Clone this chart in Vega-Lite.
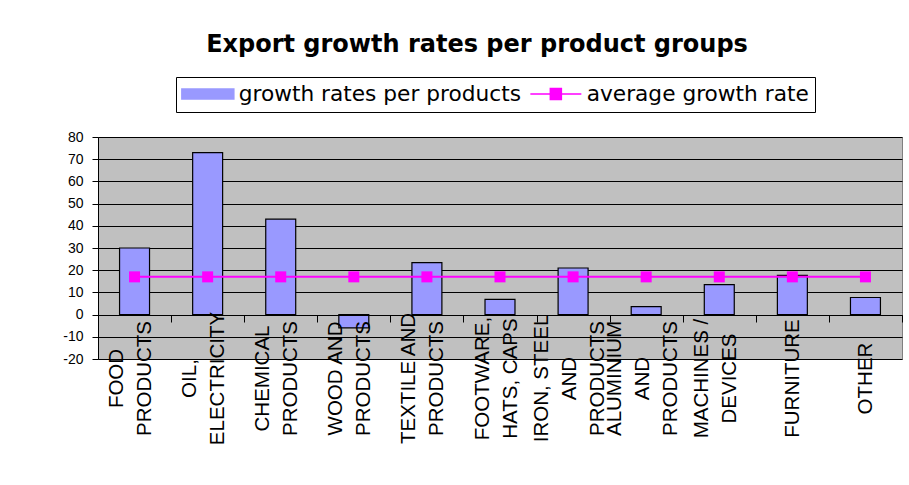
{
  "$schema": "https://vega.github.io/schema/vega-lite/v6.json",
  "width": 804,
  "height": 222,
  "autosize": {"type": "none"},
  "padding": {"left": 98, "top": 137, "right": 7, "bottom": 126},
  "background": "white",
  "title": {
    "text": "Export growth rates per product groups",
    "font": "DejaVu Sans",
    "fontSize": 24,
    "fontWeight": "bold",
    "color": "black",
    "anchor": "middle",
    "dx": -23,
    "offset": 20
  },
  "data": {
    "values": [
      {"group": "FOOD\nPRODUCTS", "growth": 30, "average": 17},
      {"group": "OIL,\nELECTRICITY", "growth": 73, "average": 17},
      {"group": "CHEMICAL\nPRODUCTS", "growth": 43, "average": 17},
      {"group": "WOOD AND\nPRODUCTS", "growth": -6, "average": 17},
      {"group": "TEXTILE AND\nPRODUCTS", "growth": 23.4, "average": 17},
      {"group": "FOOTWARE,\nHATS, CAPS", "growth": 6.9, "average": 17},
      {"group": "IRON, STEEL\nAND\nPRODUCTS", "growth": 21, "average": 17},
      {"group": "ALUMINIUM\nAND\nPRODUCTS", "growth": 3.6, "average": 17},
      {"group": "MACHINES /\nDEVICES", "growth": 13.5, "average": 17},
      {"group": "FURNITURE", "growth": 17.7, "average": 17},
      {"group": "OTHER", "growth": 7.7, "average": 17}
    ]
  },
  "encoding": {
    "x": {
      "field": "group",
      "type": "nominal",
      "sort": null,
      "scale": {"paddingInner": 0, "paddingOuter": 0},
      "axis": {
        "title": null,
        "offset": -44,
        "zindex": 1,
        "tickBand": "extent",
        "labelAngle": -90,
        "labelAlign": "center",
        "labelBaseline": "middle",
        "labelExpr": "split(datum.label, '\\n')",
        "labelFont": "Liberation Sans",
        "labelFontSize": 20.5,
        "labelLineHeight": 28,
        "labelColor": "black",
        "labelPadding": 56,
        "labelOffset": {
          "condition": [
            {"test": "length(split(datum.label, '\\n')) == 3", "value": -32},
            {"test": "length(split(datum.label, '\\n')) == 2", "value": -18}
          ],
          "value": 0
        },
        "labelOverlap": false,
        "labelLimit": 0,
        "labelBound": false,
        "tickSize": 7,
        "tickColor": "black",
        "domainColor": "black",
        "grid": false
      }
    }
  },
  "layer": [
    {
      "mark": {"type": "bar", "width": {"band": 0.41}, "stroke": "black", "strokeWidth": 1.2},
      "encoding": {
        "y": {
          "field": "growth",
          "type": "quantitative",
          "scale": {"domain": [-20, 80], "nice": false},
          "axis": {
            "title": null,
            "values": [-20, -10, 0, 10, 20, 30, 40, 50, 60, 70, 80],
            "labelExpr": "replace(datum.label, '\u2212', '-')",
            "grid": true,
            "gridColor": "black",
            "gridOpacity": 1,
            "gridWidth": 1,
            "labelFont": "Liberation Sans",
            "labelFontSize": 14,
            "labelColor": "black",
            "labelPadding": 9,
            "labelOverlap": false,
            "tickSize": 6,
            "tickColor": "black",
            "domainColor": "black"
          }
        },
        "color": {
          "datum": "growth rates per products",
          "type": "nominal",
          "scale": {
            "domain": ["growth rates per products", "average growth rate"],
            "range": ["#9999ff", "#ff00ff"]
          },
          "legend": {
            "orient": "none",
            "legendX": 78,
            "legendY": -60,
            "direction": "horizontal",
            "title": null,
            "strokeColor": "black",
            "fillColor": "white",
            "padding": 6,
            "labelFont": "DejaVu Sans",
            "labelFontSize": 21.7,
            "labelColor": "black",
            "labelLimit": 0,
            "symbolSize": 144,
            "symbolOffset": 15,
            "labelOffset": 20,
            "columnPadding": 6,
            "symbolType": {"expr": "datum.value === 'average growth rate' ? 'M-4.25,0H4.25M-0.92,-0.92H0.92V0.92H-0.92Z' : 'M-4.33,-0.83H4.33V0.83H-4.33Z'"},
            "symbolStrokeWidth": 1.5,
            "symbolOpacity": 1,
            "encode": {
              "symbols": {
                "update": {
                  "stroke": {"signal": "datum.value === 'average growth rate' ? '#ff00ff' : 'black'"},
                  "fill": {"signal": "datum.value === 'average growth rate' ? '#ff00ff' : '#9999ff'"}
                }
              }
            }
          }
        }
      }
    },
    {
      "mark": {"type": "line", "strokeWidth": 2, "point": {"shape": "square", "size": 121, "filled": true}},
      "encoding": {
        "y": {
          "field": "average",
          "type": "quantitative",
          "axis": {
            "title": null,
            "values": [-20, -10, 0, 10, 20, 30, 40, 50, 60, 70, 80],
            "labelExpr": "replace(datum.label, '\u2212', '-')",
            "grid": true,
            "gridColor": "black",
            "gridOpacity": 1,
            "gridWidth": 1,
            "labelFont": "Liberation Sans",
            "labelFontSize": 14,
            "labelColor": "black",
            "labelPadding": 9,
            "labelOverlap": false,
            "tickSize": 6,
            "tickColor": "black",
            "domainColor": "black"
          }
        },
        "color": {
          "datum": "average growth rate",
          "type": "nominal",
          "legend": {
            "orient": "none",
            "legendX": 78,
            "legendY": -60,
            "direction": "horizontal",
            "title": null,
            "strokeColor": "black",
            "fillColor": "white",
            "padding": 6,
            "labelFont": "DejaVu Sans",
            "labelFontSize": 21.7,
            "labelColor": "black",
            "labelLimit": 0,
            "symbolSize": 144,
            "symbolOffset": 15,
            "labelOffset": 20,
            "columnPadding": 6,
            "symbolType": {"expr": "datum.value === 'average growth rate' ? 'M-4.25,0H4.25M-0.92,-0.92H0.92V0.92H-0.92Z' : 'M-4.33,-0.83H4.33V0.83H-4.33Z'"},
            "symbolStrokeWidth": 1.5,
            "symbolOpacity": 1,
            "encode": {
              "symbols": {
                "update": {
                  "stroke": {"signal": "datum.value === 'average growth rate' ? '#ff00ff' : 'black'"},
                  "fill": {"signal": "datum.value === 'average growth rate' ? '#ff00ff' : '#9999ff'"}
                }
              }
            }
          }
        }
      }
    }
  ],
  "config": {
    "view": {"fill": "#c0c0c0", "stroke": "#808080"}
  }
}
